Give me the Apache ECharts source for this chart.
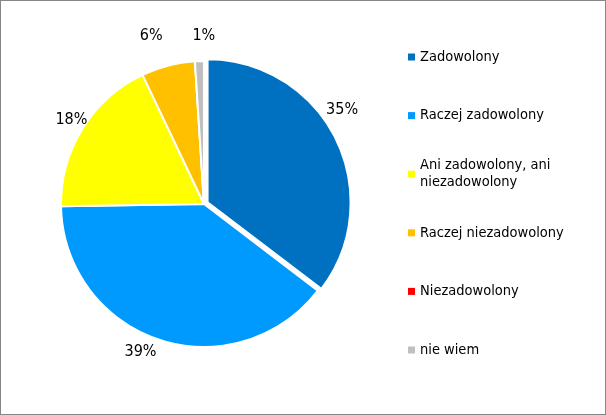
<!DOCTYPE html>
<html>
<head>
<meta charset="utf-8">
<script src="https://cdn.jsdelivr.net/npm/echarts@6/dist/echarts.min.js"></script>
<style>
html,body{margin:0;padding:0;background:#fff;}
#frame{width:606px;height:415px;box-sizing:border-box;border:1px solid #868686;position:relative;}
#chart{position:absolute;left:0;top:0;width:604px;height:413px;}
</style>
</head>
<body>
<div id="frame"><div id="chart"></div></div>
<script>
var categories = ['Zadowolony', 'Raczej zadowolony', 'Ani zadowolony, ani\nniezadowolony', 'Raczej niezadowolony', 'Niezadowolony', 'nie wiem'];
var values = [35, 39, 18, 6, 0, 1];
var colors = ['#0070C0', '#009AFF', '#FFFF00', '#FFC000', '#FF0000', '#BFBFBF'];
// label nudges (style only), mimicking the spreadsheet's "best fit" label placement
var labelNudges = [[-20, -26], [4, 6], [15, -6], [1, -24], [0, 0], [21, -19]];

var FONT = '"DejaVu Sans Condensed", "DejaVu Sans", sans-serif';
var chart = echarts.init(document.getElementById('chart'), null, {renderer: 'canvas'});

var data = categories.map(function (c, i) {
  return {
    name: c,
    value: values[i],
    selected: i === 0,
    itemStyle: {color: colors[i]},
    label: {show: values[i] > 0}
  };
});

var legendTop0 = 47.5, legendStep = 58.6;
var legends = categories.map(function (c, i) {
  var multi = c.indexOf('\n') >= 0;
  return {
    show: true,
    orient: 'vertical',
    left: 407,
    top: legendTop0 + i * legendStep - (multi ? 17 : 0),
    padding: 0,
    itemWidth: 7,
    itemHeight: 7,
    itemGap: 0,
    selectedMode: false,
    icon: 'rect',
    itemStyle: {borderWidth: 0},
    data: [{name: c, textStyle: multi ? {padding: [17, 0, 0, 0]} : {}}],
    textStyle: {fontFamily: FONT, fontSize: 14.5, color: '#000', lineHeight: 17}
  };
});

chart.setOption({
  animation: false,
  legend: legends,
  series: [{
    type: 'pie',
    center: [203, 203],
    radius: 143,
    startAngle: 90,
    clockwise: true,
    selectedMode: 'multiple',
    selectedOffset: 4,
    avoidLabelOverlap: false,
    itemStyle: {borderColor: '#fff', borderWidth: 2},
    label: {
      show: true,
      position: 'outside',
      formatter: '{c}%',
      fontFamily: FONT,
      fontSize: 16,
      color: '#000'
    },
    labelLine: {show: false, length: 6, length2: 0},
    labelLayout: function (p) {
      var n = labelNudges[p.dataIndex];
      return {dx: n[0], dy: n[1]};
    },
    emphasis: {disabled: true},
    data: data
  }]
});
</script>
</body>
</html>
